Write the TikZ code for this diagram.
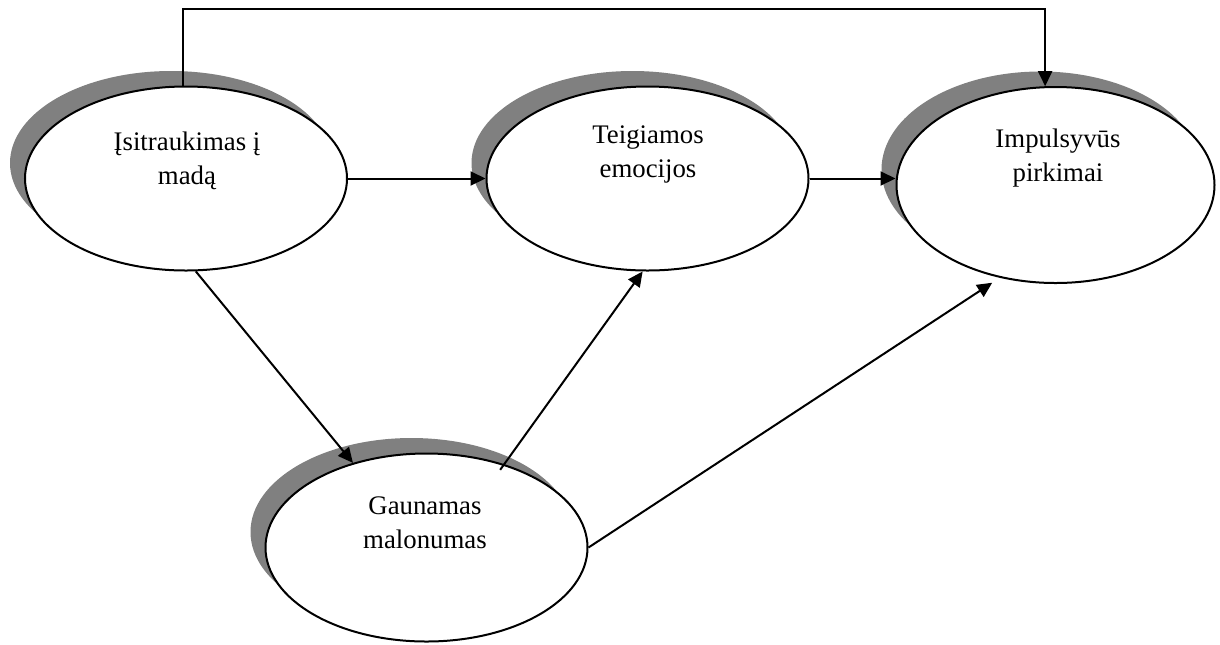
\documentclass[tikz,border=0pt]{standalone}
\usepackage{fontspec}
\setmainfont{Liberation Serif}
\usetikzlibrary{shapes.geometric, arrows.meta, shadows}
\definecolor{shgray}{HTML}{808080}
\tikzset{
  bubble/.style = {ellipse, draw, line width=1pt, fill=white, inner sep=0pt,
    minimum width=161pt, minimum height=92pt,
    drop shadow={shadow xshift=-7.5pt, shadow yshift=7.75pt, fill=shgray, opacity=1}},
  lbl/.style = {align=center, inner sep=0pt, font=\fontsize{13.4}{17}\selectfont},
  arr/.style = {line width=1pt, -{Triangle[length=7.5pt, width=7pt]}}
}

\begin{document}
\begin{tikzpicture}[x=0.5pt, y=-0.5pt]
\useasboundingbox (0,0) rectangle (1220,644);
\coordinate (top) at (0,9);
\path (186,178.5) node[bubble] (imad) {};
\path (647.5,178.5) node[bubble] (emoc) {};
\path (1055.5,185) node[bubble, minimum width=159pt, minimum height=98pt] (impul) {};
\path (426.5,547.5) node[bubble, minimum height=94pt] (malon) {};
\path (187,161) node[lbl] (imadT) {\strut Įsitraukimas į\\madą\strut};
\path (648,154) node[lbl] (emocT) {\strut Teigiamos\\emocijos\strut};
\path (1058,158) node[lbl] (impulT) {\strut Impulsyvūs\\pirkimai\strut};
\path (425,525) node[lbl] (malonT) {\strut Gaunamas\\malonumas\strut};
\draw[arr] (imad.east) -- (emoc.west);
\draw[arr] (emoc.east) -- (emoc.east -| impul.west);
\draw[arr] (imad.92) -- (imad.92 |- top) -- (impul.96 |- top) -- (impul.96);
\draw[arr] (imad.276) -- (malon.131);
\draw[arr, shorten <=-3.5pt] (malon.47) -- (emoc.267);
\draw[arr, shorten >=4.5pt] (malon.east) -- (impul.239);
\end{tikzpicture}
\end{document}
